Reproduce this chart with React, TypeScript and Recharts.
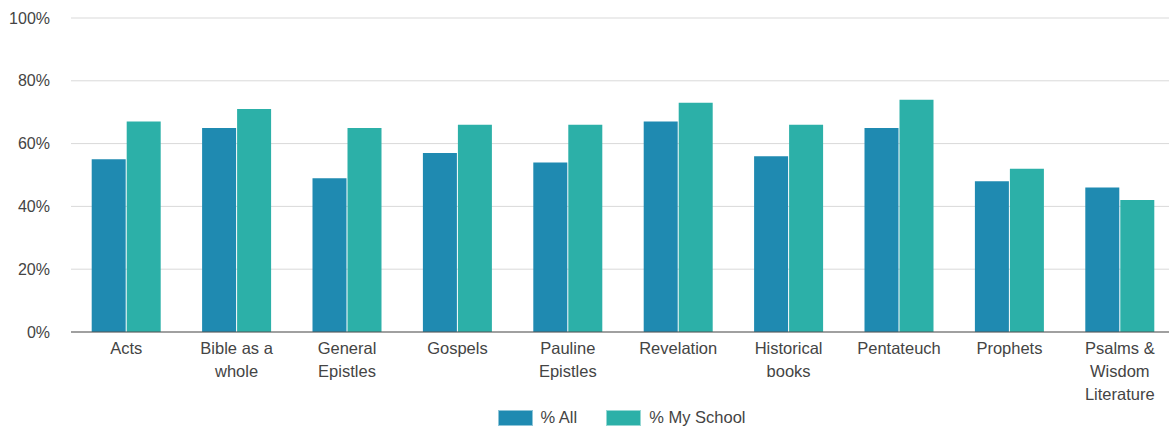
import { BarChart, Bar, XAxis, YAxis, CartesianGrid, Legend } from "recharts";

const CATEGORIES = [
  "Acts", "Bible as a whole", "General Epistles", "Gospels", "Pauline Epistles",
  "Revelation", "Historical books", "Pentateuch", "Prophets", "Psalms & Wisdom Literature",
];
// how each label breaks onto lines
const TICK_LINES: Record<string, string[]> = {
  "Bible as a whole": ["Bible as a", "whole"],
  "General Epistles": ["General", "Epistles"],
  "Pauline Epistles": ["Pauline", "Epistles"],
  "Historical books": ["Historical", "books"],
  "Psalms & Wisdom Literature": ["Psalms &", "Wisdom", "Literature"],
};
const ALL = [55, 65, 49, 57, 54, 67, 56, 65, 48, 46];
const MY_SCHOOL = [67, 71, 65, 66, 66, 73, 66, 74, 52, 42];
const Y_TICKS = [0, 20, 40, 60, 80, 100];

const BLUE = "#1f8ab1";
const GREEN = "#2cb0a8";
const FONT = "'Liberation Sans', Arial, sans-serif";

const data = CATEGORIES.map((name, i) => ({ name, all: ALL[i], school: MY_SCHOOL[i] }));

function CatTick({ x, y, payload }: any) {
  const lines = TICK_LINES[payload.value] || [payload.value];
  return (
    <text x={x} y={y} textAnchor="middle" fill="#444" fontSize={16.5} fontFamily={FONT}>
      {lines.map((l, i) => (
        <tspan key={i} x={x} dy={i === 0 ? 14 : 23}>{l}</tspan>
      ))}
    </text>
  );
}

function LegendBox() {
  const items = [
    { label: "% All", color: BLUE },
    { label: "% My School", color: GREEN },
  ];
  return (
    <div style={{ display: "flex", justifyContent: "center", gap: 29, paddingLeft: 68, fontFamily: FONT, fontSize: 16.5, color: "#444" }}>
      {items.map(it => (
        <div key={it.label} style={{ display: "flex", alignItems: "center", gap: 8 }}>
          <div style={{ width: 33, height: 14, background: it.color, border: "1px solid rgba(255,255,255,0.5)" }} />
          <span>{it.label}</span>
        </div>
      ))}
    </div>
  );
}

export default function App() {
  return (
    <div style={{ position: "absolute", left: 0, top: 0, background: "#fff", overflow: "hidden", width: 1169, height: 428 }}>
      <BarChart width={1169} height={428} data={data}
        margin={{ top: 18, right: -6, left: 0, bottom: 0 }}
        barCategoryGap="18.75%" barGap={1}>
        <CartesianGrid vertical={false} stroke="#d9d9d9" />
        <XAxis dataKey="name" interval={0} tickLine={false} axisLine={{ stroke: "#555" }}
          tick={<CatTick />} height={76} />
        <YAxis domain={[0, 100]} ticks={Y_TICKS} tickFormatter={(v: number) => `${v}%`}
          axisLine={false} tickLine={false} width={71}
          tick={{ fill: "#444", fontSize: 16, fontFamily: FONT }} tickMargin={15} />
        <Legend verticalAlign="bottom" height={20} content={<LegendBox />} />
        <Bar dataKey="all" name="% All" fill={BLUE} isAnimationActive={false} />
        <Bar dataKey="school" name="% My School" fill={GREEN} isAnimationActive={false} />
      </BarChart>
    </div>
  );
}
